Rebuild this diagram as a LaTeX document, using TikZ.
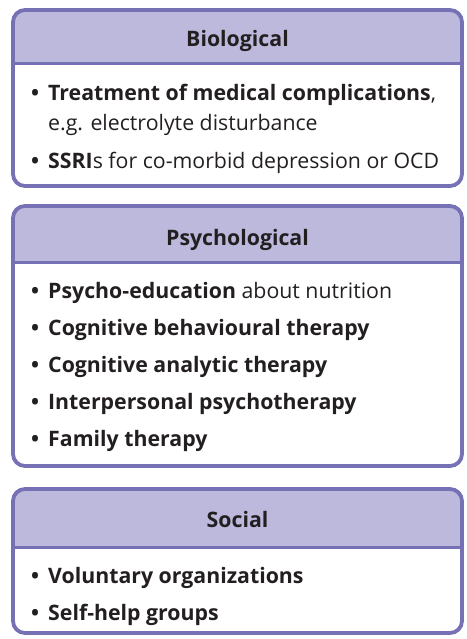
\documentclass[tikz,border=0pt]{standalone}
\usepackage{fontspec}
\setmainfont{Open Sans}
\usepackage{xcolor}
\usepackage{tikz}
\usetikzlibrary{positioning}
\definecolor{framepurple}{RGB}{118,112,180}
\definecolor{headlilac}{RGB}{188,185,221}
\definecolor{inkgrey}{RGB}{35,31,32}

\begin{document}
\begin{tikzpicture}[
 x=1pt,y=-1pt,font=\fontsize{21.3}{25}\selectfont,text=inkgrey,
 area/.style={minimum width=449pt,inner sep=0pt,outer sep=0pt},
 frame/.style={draw=framepurple,line width=3.8pt,rounded corners=12pt},
 rule/.style={draw=framepurple,line width=3pt},
 title/.style={anchor=base,inner sep=0pt,font=\fontsize{21.3}{25}\selectfont\bfseries},
 item/.style={anchor=base west,inner sep=0pt}]
\useasboundingbox (0,0) rectangle (466,639);
% Biological
\path node[area,minimum height=176pt] (bio) at (237.5,98) {};
\coordinate (bio-sep) at (0,64);
\begin{scope}
 \clip[rounded corners=12pt] (bio.north west) rectangle (bio.south east);
 \fill[headlilac] (bio.north west) rectangle (bio.east |- bio-sep);
\end{scope}
\draw[frame] (bio.north west) rectangle (bio.south east);
\draw[rule] (bio.west |- bio-sep) -- (bio.east |- bio-sep);
\node[title] (bio-title) at (237.5,47) {Biological};
\node[item] (bio-a) at (31,101)
 {\makebox[17pt][l]{\textbf{•}}\textbf{Treatment of medical complications},};
\node[item] (bio-b) at (48,131) {e.g. electrolyte disturbance};
\node[item] (bio-c) at (31,168)
 {\makebox[17pt][l]{\textbf{•}}\textbf{SSRI}s for co-morbid depression or OCD};
% Psychological
\path node[area,minimum height=260pt] (psy) at (237.5,336) {};
\coordinate (psy-sep) at (0,262);
\begin{scope}
 \clip[rounded corners=12pt] (psy.north west) rectangle (psy.south east);
 \fill[headlilac] (psy.north west) rectangle (psy.east |- psy-sep);
\end{scope}
\draw[frame] (psy.north west) rectangle (psy.south east);
\draw[rule] (psy.west |- psy-sep) -- (psy.east |- psy-sep);
\node[title] (psy-title) at (237.5,245) {Psychological};
\node[item] (psy-a) at (31,298)
 {\makebox[17pt][l]{\textbf{•}}\textbf{Psycho-education} about nutrition};
\node[item] (psy-b) at (31,335)
 {\makebox[17pt][l]{\textbf{•}}\textbf{Cognitive behavioural therapy}};
\node[item] (psy-c) at (31,372)
 {\makebox[17pt][l]{\textbf{•}}\textbf{Cognitive analytic therapy}};
\node[item] (psy-d) at (31,409)
 {\makebox[17pt][l]{\textbf{•}}\textbf{Interpersonal psychotherapy}};
\node[item] (psy-e) at (31,446)
 {\makebox[17pt][l]{\textbf{•}}\textbf{Family therapy}};
% Social
\path node[area,minimum height=144pt] (soc) at (237.5,561) {};
\coordinate (soc-sep) at (0,547);
\begin{scope}
 \clip[rounded corners=12pt] (soc.north west) rectangle (soc.south east);
 \fill[headlilac] (soc.north west) rectangle (soc.east |- soc-sep);
\end{scope}
\draw[frame] (soc.north west) rectangle (soc.south east);
\draw[rule] (soc.west |- soc-sep) -- (soc.east |- soc-sep);
\node[title] (soc-title) at (237.5,527) {Social};
\node[item] (soc-a) at (31,583)
 {\makebox[17pt][l]{\textbf{•}}\textbf{Voluntary organizations}};
\node[item] (soc-b) at (31,620)
 {\makebox[17pt][l]{\textbf{•}}\textbf{Self-help groups}};
\end{tikzpicture}
\end{document}
